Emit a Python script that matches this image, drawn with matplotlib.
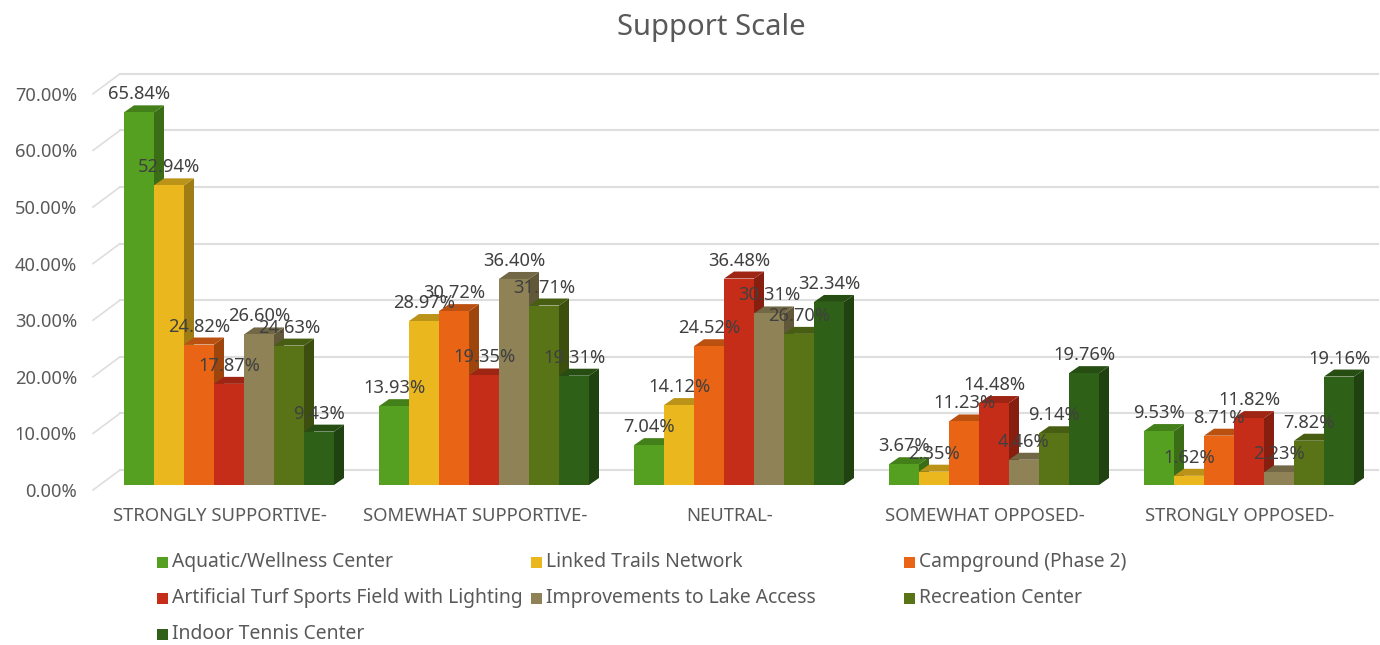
import numpy as np
import matplotlib
matplotlib.use("Agg")
import matplotlib.pyplot as plt
from matplotlib.patches import Rectangle
from matplotlib.colors import to_rgb

categories = ["STRONGLY SUPPORTIVE-", "SOMEWHAT SUPPORTIVE-", "NEUTRAL-", "SOMEWHAT OPPOSED-", "STRONGLY OPPOSED-"]
series_names = ["Aquatic/Wellness Center", "Linked Trails Network", "Campground (Phase 2)",
                "Artificial Turf Sports Field with Lighting", "Improvements to Lake Access",
                "Recreation Center", "Indoor Tennis Center"]
aquatic = [65.84, 13.93, 7.04, 3.67, 9.53]
trails = [52.94, 28.97, 14.12, 2.35, 1.62]
campground = [24.82, 30.72, 24.52, 11.23, 8.71]
turf = [17.87, 19.35, 36.48, 14.48, 11.82]
lake = [26.60, 36.40, 30.31, 4.46, 2.23]
recreation = [24.63, 31.71, 26.70, 9.14, 7.82]
tennis = [9.43, 19.31, 32.34, 19.76, 19.16]
colors = ["#55A021", "#EAB81E", "#E96515", "#C62D19", "#8F8256", "#587416", "#2F6017"]
y_ticks = [0, 10, 20, 30, 40, 50, 60, 70]

all_series = [aquatic, trails, campground, turf, lake, recreation, tennis]

W, H = 1380, 645
plt.rcParams["font.family"] = ["Noto Sans", "DejaVu Sans"]
fig = plt.figure(figsize=(W / 100, H / 100), dpi=100)

# axes box in pixels: one x unit = one category, y unit = percent
px_per_cat = 255.0
px_per_pct = 5.66
base_px = 485
left_px = 124
ax = fig.add_axes([left_px / W, (H - base_px) / H, (W - left_px) / W, 70 * px_per_pct / H])
ax.set_xlim(0, (W - left_px) / px_per_cat)
ax.set_ylim(0, 70)
ax.axis("off")


def dx(p):
    return p / px_per_cat


def dy(p):
    return p / px_per_pct


# back wall grid + left wall diagonals
for t in y_ticks:
    back = t + dy(15)
    ax.plot([dx(-4), dx(W - left_px - 2)], [back, back], color="#DEDEDE", lw=1.5, clip_on=False, zorder=1)
    ax.plot([dx(-31), dx(-4)], [t + dy(-5), back], color="#DEDEDE", lw=1.2, clip_on=False, zorder=1)
    ax.text(dx(-47), t + dy(-7), "%.2f%%" % t, ha="right", va="center", fontsize=13.2, color="#595959")

bar_w = dx(30)
side_x = dx(10)
side_y = dy(7)
z = 5
labels = []
for c in range(len(categories)):
    for s, vals in enumerate(all_series):
        v = vals[c]
        x0 = c + s * bar_w
        x1 = x0 + bar_w
        col = np.array(to_rgb(colors[s]))
        ax.fill([x1, x1 + side_x, x1 + side_x, x1], [0, side_y, v + side_y, v],
                color=col * 0.68, lw=0, zorder=z, clip_on=False)
        ax.fill([x0, x0 + side_x, x1 + side_x, x1], [v, v + side_y, v + side_y, v],
                color=col * 0.8, lw=0, zorder=z, clip_on=False)
        ax.bar(x0, v, width=bar_w, align="edge", color=colors[s], lw=0, zorder=z + 0.5, clip_on=False)
        z += 1
        labels.append((x0 + bar_w / 2, v + dy(18), "%.2f%%" % v))
    ax.text(c + dx(96), dy(-31), categories[c], ha="center", va="center", fontsize=13.3, color="#595959")

for x, y, t in labels:
    ax.text(x, y, t, ha="center", va="center", fontsize=13.2, color="#404040", zorder=500, clip_on=False)

fig.text(711 / W, 1 - 27 / H, "Support Scale", ha="center", va="center", fontsize=21, color="#595959")

# legend, three columns filled row by row
col_px = [157, 531, 904]
row_px = [562, 598, 634]
for i, name in enumerate(series_names):
    lx = col_px[i % 3]
    ly = row_px[i // 3]
    fig.add_artist(Rectangle((lx / W, 1 - (ly + 6) / H), 11 / W, 11 / H, transform=fig.transFigure,
                             facecolor=colors[i], edgecolor="none"))
    fig.text((lx + 15) / W, 1 - ly / H, name, ha="left", va="center", fontsize=13.9, color="#595959")

fig.savefig("out.png", dpi=100, facecolor="white")
